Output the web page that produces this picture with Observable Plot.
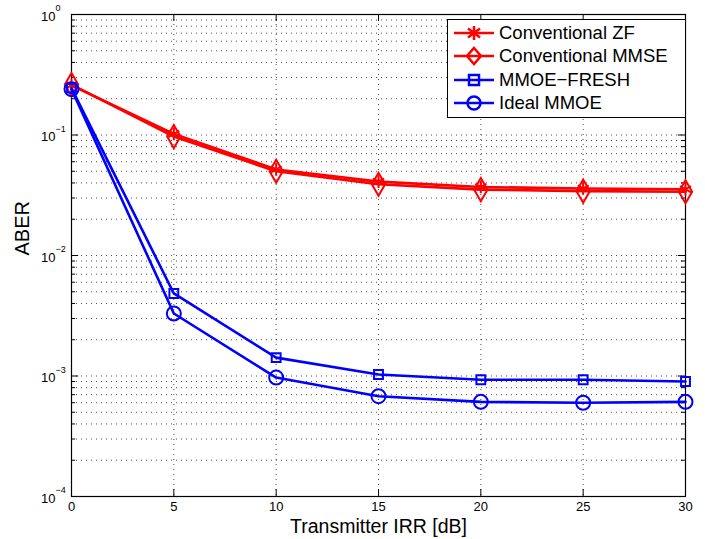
<!DOCTYPE html>
<html>
<head>
<meta charset="utf-8">
<script src="https://cdn.jsdelivr.net/npm/d3@7"></script>
<script src="https://cdn.jsdelivr.net/npm/@observablehq/plot@0.6"></script>
<style>
  html, body { margin: 0; padding: 0; background: #fff; }
  #wrap { position: relative; width: 705px; height: 539px; font-family: "Liberation Sans", Arial, sans-serif; }
  #legend { position: absolute; left: 447px; top: 19px; width: 239px; height: 99px; border: 1px solid #000; background: #fff; box-sizing: border-box; }
  .row { position: absolute; left: 0; height: 22px; display: flex; align-items: center; }
  .row span { font-size: 18.5px; color: #000; margin-left: 5px; white-space: nowrap; }
</style>
</head>
<body>
<div id="wrap"></div>
<script>
const irr = [0, 5, 10, 15, 20, 25, 30];
const convZF   = [0.258, 0.102, 0.0518, 0.0410, 0.0370, 0.0360, 0.0355];
const convMMSE = [0.262, 0.097, 0.0500, 0.0390, 0.0352, 0.0342, 0.0338];
const fresh    = [0.245, 0.00484, 0.00142, 0.00103, 0.00093, 0.00093, 0.00090];
const ideal    = [0.240, 0.0033, 0.00097, 0.00068, 0.00061, 0.00060, 0.00061];
const seriesNames = ["Conventional ZF", "Conventional MMSE", "MMOE\u2212FRESH", "Ideal MMOE"];
const seriesColors = ["#ff0000", "#ff0000", "#0000ff", "#0000ff"];
const seriesSymbols = ["asterisk", "diamond", "square", "circle"];
const xTicks = [0, 5, 10, 15, 20, 25, 30];
const yMajor = [1e-4, 1e-3, 1e-2, 1e-1, 1];
const yMajorBase = ["10", "10", "10", "10", "10"];
const yMajorExp = ["\u22124", "\u22123", "\u22122", "\u22121", "0"];

const allSeries = [convZF, convMMSE, fresh, ideal];
const data = [];
allSeries.forEach((vals, s) => vals.forEach((v, i) => data.push({x: irr[i], y: v, s})));

const yMinor = [];
for (let e = -4; e < 0; e++) for (let m = 2; m <= 9; m++) yMinor.push(m * Math.pow(10, e));
const yGrid = yMinor.concat(yMajor.slice(1, 4));

const tickLenX = 0.35;
const minorLenX = 0.2;
const tickFactor = Math.pow(10, 7 / 120.5);

const markSizes = [6, 7, 5, 7];

const marks = [
  Plot.ruleY(yGrid, {y: d => d, stroke: "#000", strokeWidth: 1, strokeDasharray: "1,4", strokeOpacity: 0.7}),
  Plot.ruleX(xTicks.slice(1, 6), {x: d => d, stroke: "#000", strokeWidth: 1, strokeDasharray: "1,4", strokeOpacity: 0.7}),
  Plot.ruleY(yMajor, {y: d => d, x1: 0, x2: tickLenX, stroke: "#000"}),
  Plot.ruleY(yMajor, {y: d => d, x1: 30 - tickLenX, x2: 30, stroke: "#000"}),
  Plot.ruleY(yMinor, {y: d => d, x1: 0, x2: minorLenX, stroke: "#000"}),
  Plot.ruleY(yMinor, {y: d => d, x1: 30 - minorLenX, x2: 30, stroke: "#000"}),
  Plot.ruleX(xTicks, {x: d => d, y1: 1e-4, y2: 1e-4 * tickFactor, stroke: "#000"}),
  Plot.ruleX(xTicks, {x: d => d, y1: 1 / tickFactor, y2: 1, stroke: "#000"}),
  Plot.frame({stroke: "#000", strokeWidth: 1.2}),
  Plot.axisX(xTicks, {tickSize: 0, tickPadding: 5, fontSize: 13, label: null, tickFormat: d => String(d)}),
  Plot.text(yMajor, {x: 0, y: d => d, text: (d, i) => yMajorBase[i], dx: -16, dy: 2, textAnchor: "end", fontSize: 13}),
  Plot.text(yMajor, {x: 0, y: d => d, text: (d, i) => yMajorExp[i], dx: -16, dy: -6, textAnchor: "start", fontSize: 9}),
  Plot.text(["Transmitter IRR [dB]"], {x: 15, frameAnchor: "bottom", dy: 36, text: d => d, fontSize: 19.5, textAnchor: "middle"}),
  Plot.text(["ABER"], {frameAnchor: "left", dx: -49, text: d => d, rotate: -90, fontSize: 20}),
];
allSeries.forEach((vals, s) => {
  const d = data.filter(p => p.s === s);
  marks.push(Plot.line(d, {x: "x", y: "y", stroke: seriesColors[s], strokeWidth: 2.6}));
  marks.push(Plot.dot(d, {x: "x", y: "y", symbol: () => seriesSymbols[s], r: markSizes[s], stroke: seriesColors[s], strokeWidth: 2, fill: "none"}));
});

const chart = Plot.plot({
  width: 705, height: 539,
  marginLeft: 71, marginRight: 20, marginTop: 14, marginBottom: 43,
  style: {fontFamily: "Liberation Sans, Arial, sans-serif", color: "#000", background: "#fff"},
  x: {domain: [0, 30], axis: null},
  y: {type: "log", domain: [1e-4, 1], axis: null},
  marks
});
const wrap = document.getElementById("wrap");
wrap.appendChild(chart);

const leg = document.createElement("div");
leg.id = "legend";
const symPaths = {
  asterisk: '<path d="M20,5 V19 M14,7.5 L26,16.5 M14,16.5 L26,7.5" />',
  diamond: '<path d="M20,4 L27,12 L20,20 L13,12 Z" />',
  square: '<rect x="15" y="7" width="10" height="10" />',
  circle: '<circle cx="20" cy="12" r="6.5" />'
};
seriesNames.forEach((name, i) => {
  const row = document.createElement("div");
  row.className = "row";
  row.style.top = (2 + i * 23.3) + "px";
  row.style.left = "6px";
  row.innerHTML = `<svg width="40" height="24" style="overflow:visible"><g stroke="${seriesColors[i]}" stroke-width="2.5" fill="none"><line x1="0" y1="12" x2="40" y2="12" />${symPaths[seriesSymbols[i]]}</g></svg><span>${name}</span>`;
  leg.appendChild(row);
});
wrap.appendChild(leg);
</script>
</body>
</html>
